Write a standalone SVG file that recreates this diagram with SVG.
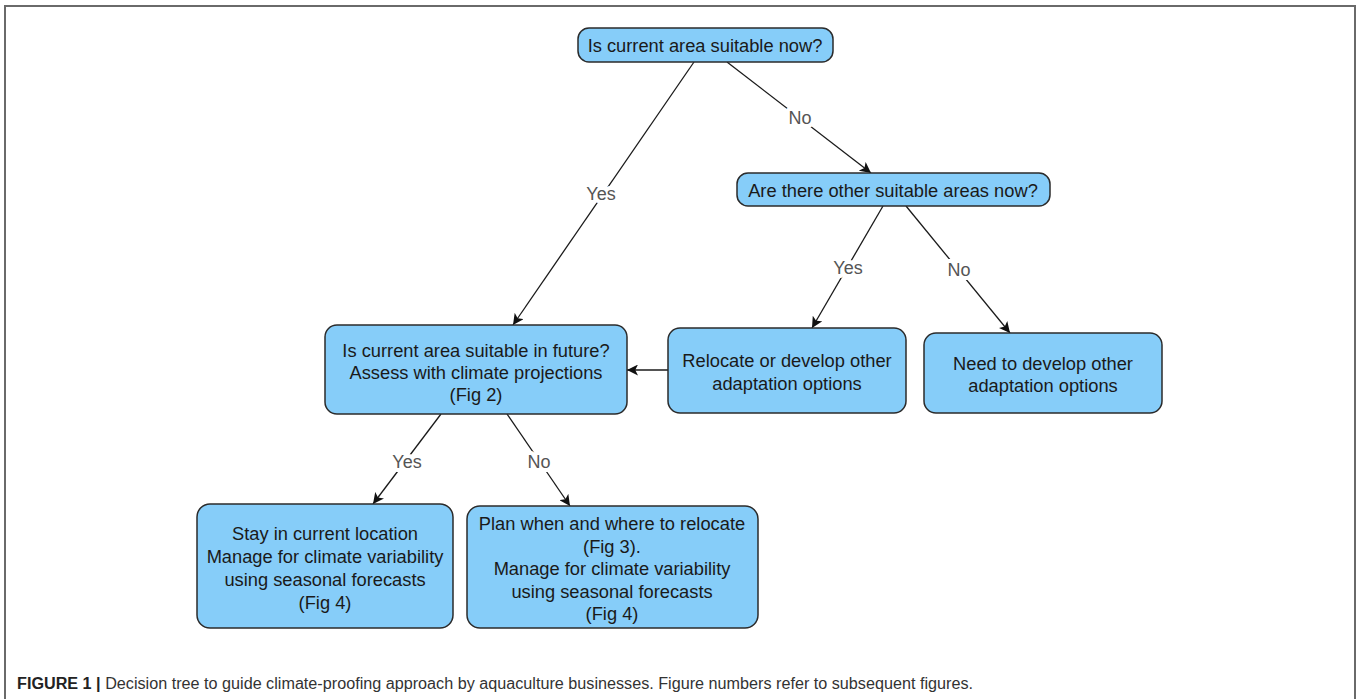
<svg xmlns="http://www.w3.org/2000/svg" width="1357" height="699" viewBox="0 0 1357 699">
<defs>
<style>
.node rect{fill:#86CDF9;stroke:#2b2b2b;stroke-width:1.5}
.node text{font-family:"Liberation Sans",Arial,sans-serif;font-size:18.3px;fill:#1a1a1a;text-anchor:middle}
.edge{stroke:#1a1a1a;stroke-width:1.3;fill:none;marker-end:url(#arr)}
.lbl{font-family:"Liberation Sans",Arial,sans-serif;font-size:18px;fill:#555;text-anchor:middle;stroke:#fff;stroke-width:8px;paint-order:stroke;stroke-linejoin:round}
.cap{font-family:"Liberation Sans",Arial,sans-serif;font-size:16px;fill:#333}
</style>
<marker id="arr" viewBox="0 0 10 10" refX="10" refY="5" markerWidth="11" markerHeight="11" markerUnits="userSpaceOnUse" orient="auto">
<path d="M0,0 L10,5 L0,10 L2.5,5 z" fill="#111"/>
</marker>
</defs>
<rect width="1357" height="699" fill="#fff"/>
<path d="M5,705 V6 H1355 V705" fill="none" stroke="#6a6a6a" stroke-width="2"/>

<g id="connectors">
<line class="edge" x1="694" y1="62" x2="513" y2="325"/>
<line class="edge" x1="727" y1="62" x2="871" y2="173"/>
<line class="edge" x1="883" y1="206" x2="812" y2="328"/>
<line class="edge" x1="906" y1="206" x2="1010" y2="333"/>
<line class="edge" x1="668" y1="370" x2="627" y2="370"/>
<line class="edge" x1="441" y1="414" x2="373" y2="504"/>
<line class="edge" x1="507" y1="414" x2="570" y2="506"/>
<text class="lbl" x="601" y="200">Yes</text>
<text class="lbl" x="800" y="124">No</text>
<text class="lbl" x="848" y="274">Yes</text>
<text class="lbl" x="959" y="276">No</text>
<text class="lbl" x="407" y="468">Yes</text>
<text class="lbl" x="539" y="468">No</text>
</g>

<g id="n1" class="node">
<rect x="578" y="28" width="255" height="34" rx="11"/>
<text x="705" y="51.5">Is current area suitable now?</text>
</g>
<g id="n2" class="node">
<rect x="737" y="173" width="313" height="33" rx="11"/>
<text x="893" y="196.5">Are there other suitable areas now?</text>
</g>
<g id="n3" class="node">
<rect x="325" y="325" width="302" height="89" rx="12"/>
<text x="476" y="356.5">Is current area suitable in future?</text>
<text x="476" y="378.5">Assess with climate projections</text>
<text x="476" y="400.5">(Fig 2)</text>
</g>
<g id="n4" class="node">
<rect x="668" y="328" width="238" height="85" rx="12"/>
<text x="787" y="366.5">Relocate or develop other</text>
<text x="787" y="389.5">adaptation options</text>
</g>
<g id="n5" class="node">
<rect x="924" y="333" width="238" height="80" rx="12"/>
<text x="1043" y="369.5">Need to develop other</text>
<text x="1043" y="391.5">adaptation options</text>
</g>
<g id="n6" class="node">
<rect x="197" y="504" width="256" height="124" rx="13"/>
<text x="325" y="539.5">Stay in current location</text>
<text x="325" y="562.5">Manage for climate variability</text>
<text x="325" y="585.5">using seasonal forecasts</text>
<text x="325" y="608.5">(Fig 4)</text>
</g>
<g id="n7" class="node">
<rect x="467" y="506" width="291" height="122" rx="13"/>
<text x="612" y="529.5">Plan when and where to relocate</text>
<text x="612" y="552.5">(Fig 3).</text>
<text x="612" y="574.5">Manage for climate variability</text>
<text x="612" y="597.5">using seasonal forecasts</text>
<text x="612" y="619.5">(Fig 4)</text>
</g>

<text class="cap" x="17" y="689" textLength="956" lengthAdjust="spacingAndGlyphs"><tspan font-weight="bold" fill="#222">FIGURE 1 |</tspan> Decision tree to guide climate-proofing approach by aquaculture businesses. Figure numbers refer to subsequent figures.</text>
</svg>
